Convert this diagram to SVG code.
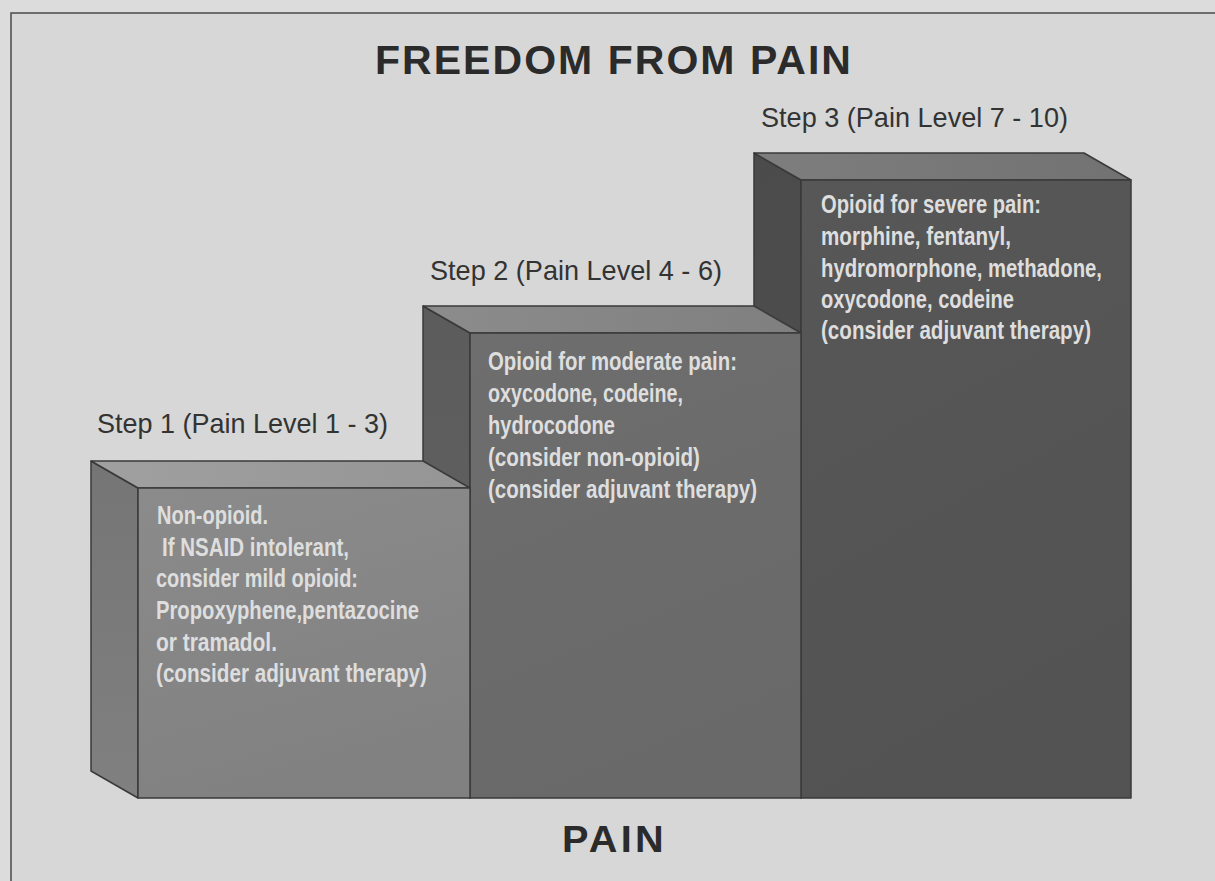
<svg xmlns="http://www.w3.org/2000/svg" width="1215" height="881" viewBox="0 0 1215 881">
  <defs>
    <style>
      .frame { fill: #d7d7d7; stroke: #4a4a4a; stroke-width: 1.5; }
      .edge { stroke: #3a3a3a; stroke-width: 1.5; stroke-linejoin: round; }
      .title { font-family: "Liberation Sans", Arial, sans-serif; font-weight: bold; fill: #2b2b2b; }
      .step { font-family: "Liberation Sans", Arial, sans-serif; font-size: 28px; fill: #333333; }
      .body { font-family: "Liberation Sans", Arial, sans-serif; font-weight: bold; font-size: 25px; fill: #dedede; }
    </style>
    <linearGradient id="f1" x1="0" y1="0" x2="0.3" y2="1">
      <stop offset="0" stop-color="#8b8b8b"/>
      <stop offset="1" stop-color="#818181"/>
    </linearGradient>
    <linearGradient id="f2" x1="0" y1="0" x2="0.3" y2="1">
      <stop offset="0" stop-color="#6e6e6e"/>
      <stop offset="1" stop-color="#696969"/>
    </linearGradient>
    <linearGradient id="f3" x1="0" y1="0" x2="0.3" y2="1">
      <stop offset="0" stop-color="#575757"/>
      <stop offset="1" stop-color="#535353"/>
    </linearGradient>
    <linearGradient id="s1" x1="0" y1="0" x2="0" y2="1">
      <stop offset="0" stop-color="#757575"/>
      <stop offset="1" stop-color="#808080"/>
    </linearGradient>
    <linearGradient id="s2" x1="0" y1="0" x2="0" y2="1">
      <stop offset="0" stop-color="#5c5c5c"/>
      <stop offset="1" stop-color="#626262"/>
    </linearGradient>
    <linearGradient id="s3" x1="0" y1="0" x2="0" y2="1">
      <stop offset="0" stop-color="#4b4b4b"/>
      <stop offset="1" stop-color="#505050"/>
    </linearGradient>
    <linearGradient id="t1" x1="0" y1="0" x2="1" y2="0">
      <stop offset="0" stop-color="#a0a0a0"/>
      <stop offset="1" stop-color="#959595"/>
    </linearGradient>
    <linearGradient id="t2" x1="0" y1="0" x2="1" y2="0">
      <stop offset="0" stop-color="#8c8c8c"/>
      <stop offset="1" stop-color="#7f7f7f"/>
    </linearGradient>
    <linearGradient id="t3" x1="0" y1="0" x2="1" y2="0">
      <stop offset="0" stop-color="#7e7e7e"/>
      <stop offset="1" stop-color="#727272"/>
    </linearGradient>
  </defs>

  <rect x="0" y="0" width="1215" height="881" fill="#dcdcdc"/>
  <rect class="frame" x="11" y="13" width="1230" height="900"/>

  <text class="title" x="375" y="74" font-size="40" letter-spacing="2" textLength="478" lengthAdjust="spacingAndGlyphs">FREEDOM FROM PAIN</text>
  <text class="title" x="562" y="852" font-size="36" letter-spacing="3" textLength="105" lengthAdjust="spacingAndGlyphs">PAIN</text>

  <g id="connectors"></g>

  <g id="step3">
    <polygon class="edge" fill="url(#s3)" points="754,153 801,180 801,798 754,771"/>
    <polygon class="edge" fill="url(#t3)" points="754,153 1084,153 1131,180 801,180"/>
    <rect class="edge" fill="url(#f3)" x="801" y="180" width="330" height="618"/>
    <text class="step" x="761" y="127" textLength="307" lengthAdjust="spacingAndGlyphs">Step 3 (Pain Level 7 - 10)</text>
    <text class="body" x="821" y="213" textLength="220" lengthAdjust="spacingAndGlyphs">Opioid for severe pain:</text>
    <text class="body" x="821" y="245" textLength="190" lengthAdjust="spacingAndGlyphs">morphine, fentanyl,</text>
    <text class="body" x="821" y="277" textLength="281" lengthAdjust="spacingAndGlyphs">hydromorphone, methadone,</text>
    <text class="body" x="821" y="308" textLength="193" lengthAdjust="spacingAndGlyphs">oxycodone, codeine</text>
    <text class="body" x="821" y="339" textLength="270" lengthAdjust="spacingAndGlyphs">(consider adjuvant therapy)</text>
  </g>

  <g id="step2">
    <polygon class="edge" fill="url(#s2)" points="423,306 470,333 470,798 423,771"/>
    <polygon class="edge" fill="url(#t2)" points="423,306 754,306 801,333 470,333"/>
    <rect class="edge" fill="url(#f2)" x="470" y="333" width="331" height="465"/>
    <text class="step" x="430" y="280" textLength="292" lengthAdjust="spacingAndGlyphs">Step 2 (Pain Level 4 - 6)</text>
    <text class="body" x="488" y="370" textLength="249" lengthAdjust="spacingAndGlyphs">Opioid for moderate pain:</text>
    <text class="body" x="488" y="402" textLength="195" lengthAdjust="spacingAndGlyphs">oxycodone, codeine,</text>
    <text class="body" x="488" y="434" textLength="127" lengthAdjust="spacingAndGlyphs">hydrocodone</text>
    <text class="body" x="488" y="466" textLength="212" lengthAdjust="spacingAndGlyphs">(consider non-opioid)</text>
    <text class="body" x="488" y="498" textLength="269" lengthAdjust="spacingAndGlyphs">(consider adjuvant therapy)</text>
  </g>

  <g id="step1">
    <polygon class="edge" fill="url(#s1)" points="91,461 138,488 138,798 91,771"/>
    <polygon class="edge" fill="url(#t1)" points="91,461 423,461 470,488 138,488"/>
    <rect class="edge" fill="url(#f1)" x="138" y="488" width="332" height="310"/>
    <text class="step" x="97" y="433" textLength="291" lengthAdjust="spacingAndGlyphs">Step 1 (Pain Level 1 - 3)</text>
    <text class="body" x="157" y="524" textLength="111" lengthAdjust="spacingAndGlyphs">Non-opioid.</text>
    <text class="body" x="162" y="556" textLength="187" lengthAdjust="spacingAndGlyphs">If NSAID intolerant,</text>
    <text class="body" x="156" y="587" textLength="202" lengthAdjust="spacingAndGlyphs">consider mild opioid:</text>
    <text class="body" x="156" y="619" textLength="263" lengthAdjust="spacingAndGlyphs">Propoxyphene,pentazocine</text>
    <text class="body" x="156" y="651" textLength="121" lengthAdjust="spacingAndGlyphs">or tramadol.</text>
    <text class="body" x="156" y="682" textLength="271" lengthAdjust="spacingAndGlyphs">(consider adjuvant therapy)</text>
  </g>
</svg>
